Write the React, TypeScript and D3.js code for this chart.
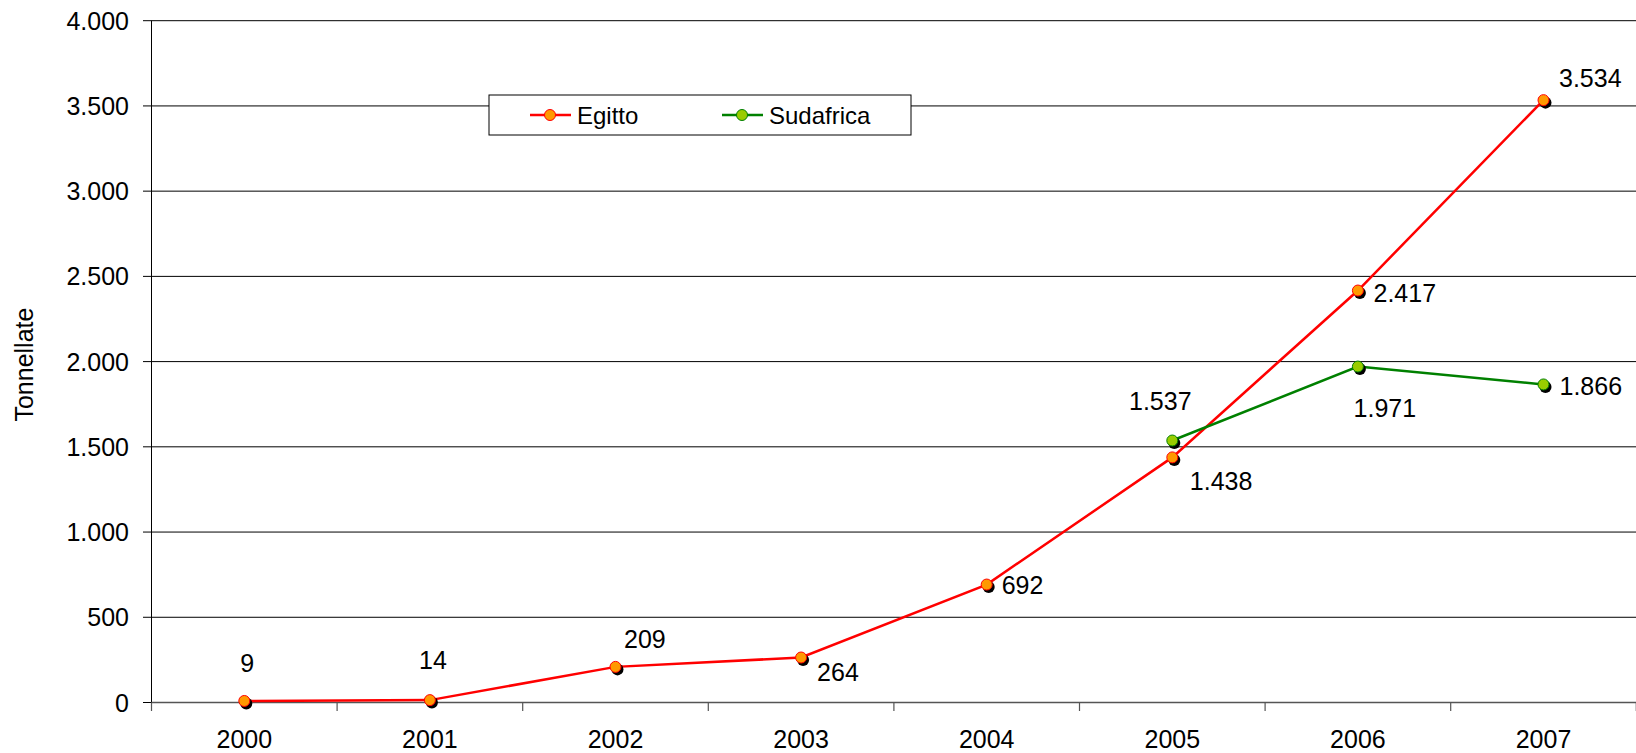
import React from "react";
import * as d3 from "d3";

const years = ["2000", "2001", "2002", "2003", "2004", "2005", "2006", "2007"];
const egitto: (number | null)[] = [9, 14, 209, 264, 692, 1438, 2417, 3534];
const sudafrica: (number | null)[] = [null, null, null, null, null, 1537, 1971, 1866];
const yTicks = [0, 500, 1000, 1500, 2000, 2500, 3000, 3500, 4000];

// label placement relative to each point: [dx, dy, anchor]
const egittoLabelPos: [number, number, string][] = [
  [3, -29, "middle"],
  [3, -31, "middle"],
  [8.5, -19, "start"],
  [16, 23, "start"],
  [15, 9, "start"],
  [17.5, 33, "start"],
  [15.6, 11, "start"],
  [15.5, -13, "start"],
];
const sudLabelPos: [number, number, string][] = [
  [0, 0, "start"], [0, 0, "start"], [0, 0, "start"], [0, 0, "start"], [0, 0, "start"],
  [-12, -31, "middle"],
  [27, 50.5, "middle"],
  [16, 10.5, "start"],
];

const W = 1636;
const H = 753;
const left = 151.5;
const right = 1636.3;
const top = 20.7;
const bottom = 702.5;
const FONT = "Arial, 'Liberation Sans', sans-serif";

const it = d3.formatLocale({ decimal: ",", thousands: ".", grouping: [3], currency: ["€", ""] });
const fmt = it.format(",d");

export default function App() {
  const x = d3.scaleBand<string>().domain(years).range([left, right]).padding(0);
  const y = d3.scaleLinear().domain([0, 4000]).range([bottom, top]);
  const cx = (i: number) => (x(years[i]) as number) + x.bandwidth() / 2;

  const line = d3
    .line<number | null>()
    .defined((d) => d !== null)
    .x((_, i) => cx(i))
    .y((d) => y(d as number));

  const series = [
    { name: "Egitto", data: egitto, line: "#FF0000", fill: "#FF9900", stroke: "#FF0000", pos: egittoLabelPos },
    { name: "Sudafrica", data: sudafrica, line: "#008000", fill: "#99CC00", stroke: "#008000", pos: sudLabelPos },
  ];

  const boundaries = d3.range(years.length + 1).map((i) => left + i * x.bandwidth());

  return (
    <svg width={W} height={H} style={{ position: "absolute", left: 0, top: 0, background: "#fff" }} fontFamily={FONT}>
      <rect x={0} y={0} width={W} height={H} fill="#fff" />
      {/* gridlines */}
      {yTicks.map((t) => (
        <line key={"g" + t} x1={143} x2={W} y1={y(t)} y2={y(t)} stroke="#000" strokeWidth={1} />
      ))}
      {/* y axis */}
      <line x1={left} x2={left} y1={top} y2={bottom + 8.5} stroke="#000" strokeWidth={1} />
      {/* x axis */}
      <line x1={left} x2={W} y1={bottom} y2={bottom} stroke="#555" strokeWidth={1.5} />
      {boundaries.map((b, i) => (
        <line key={"xt" + i} x1={b} x2={b} y1={bottom} y2={bottom + 8.5} stroke="#555" strokeWidth={1.2} />
      ))}
      {/* y tick labels */}
      {yTicks.map((t) => (
        <text key={"yl" + t} x={129} y={y(t) + 9} textAnchor="end" fontSize={25} fill="#000">
          {fmt(t)}
        </text>
      ))}
      {/* x tick labels */}
      {years.map((yr, i) => (
        <text key={"xl" + yr} x={cx(i)} y={747.5} textAnchor="middle" fontSize={25} fill="#000">
          {yr}
        </text>
      ))}
      {/* axis title */}
      <text transform={`translate(32.5, ${(top + bottom) / 2 + 3}) rotate(-90)`} textAnchor="middle" fontSize={25} fill="#000">
        Tonnellate
      </text>
      {/* lines */}
      {series.map((s) => (
        <path key={"p" + s.name} d={line(s.data) || ""} fill="none" stroke={s.line} strokeWidth={2.5} />
      ))}
      {/* markers */}
      {series.map((s) =>
        s.data.map((v, i) =>
          v === null ? null : (
            <g key={"m" + s.name + i}>
              <circle cx={cx(i) + 2} cy={y(v) + 2.5} r={6} fill="#000" />
              <circle cx={cx(i)} cy={y(v)} r={5.5} fill={s.fill} stroke={s.stroke} strokeWidth={1} />
            </g>
          )
        )
      )}
      {/* data labels */}
      {series.map((s) =>
        s.data.map((v, i) =>
          v === null ? null : (
            <text
              key={"l" + s.name + i}
              x={cx(i) + s.pos[i][0]}
              y={y(v) + s.pos[i][1]}
              textAnchor={s.pos[i][2] as any}
              fontSize={25}
              fill="#000"
            >
              {fmt(v)}
            </text>
          )
        )
      )}
      {/* legend */}
      <g>
        <rect x={489} y={95} width={422} height={40} fill="#fff" stroke="#000" strokeWidth={1} />
        {series.map((s, k) => {
          const lx = k === 0 ? 530 : 722;
          return (
            <g key={"lg" + s.name}>
              <line x1={lx} x2={lx + 41} y1={115} y2={115} stroke={s.line} strokeWidth={2.5} />
              <circle cx={lx + 20} cy={115} r={5.5} fill={s.fill} stroke={s.stroke} strokeWidth={1} />
              <text x={lx + 47} y={124} fontSize={24} fill="#000">
                {s.name}
              </text>
            </g>
          );
        })}
      </g>
    </svg>
  );
}
